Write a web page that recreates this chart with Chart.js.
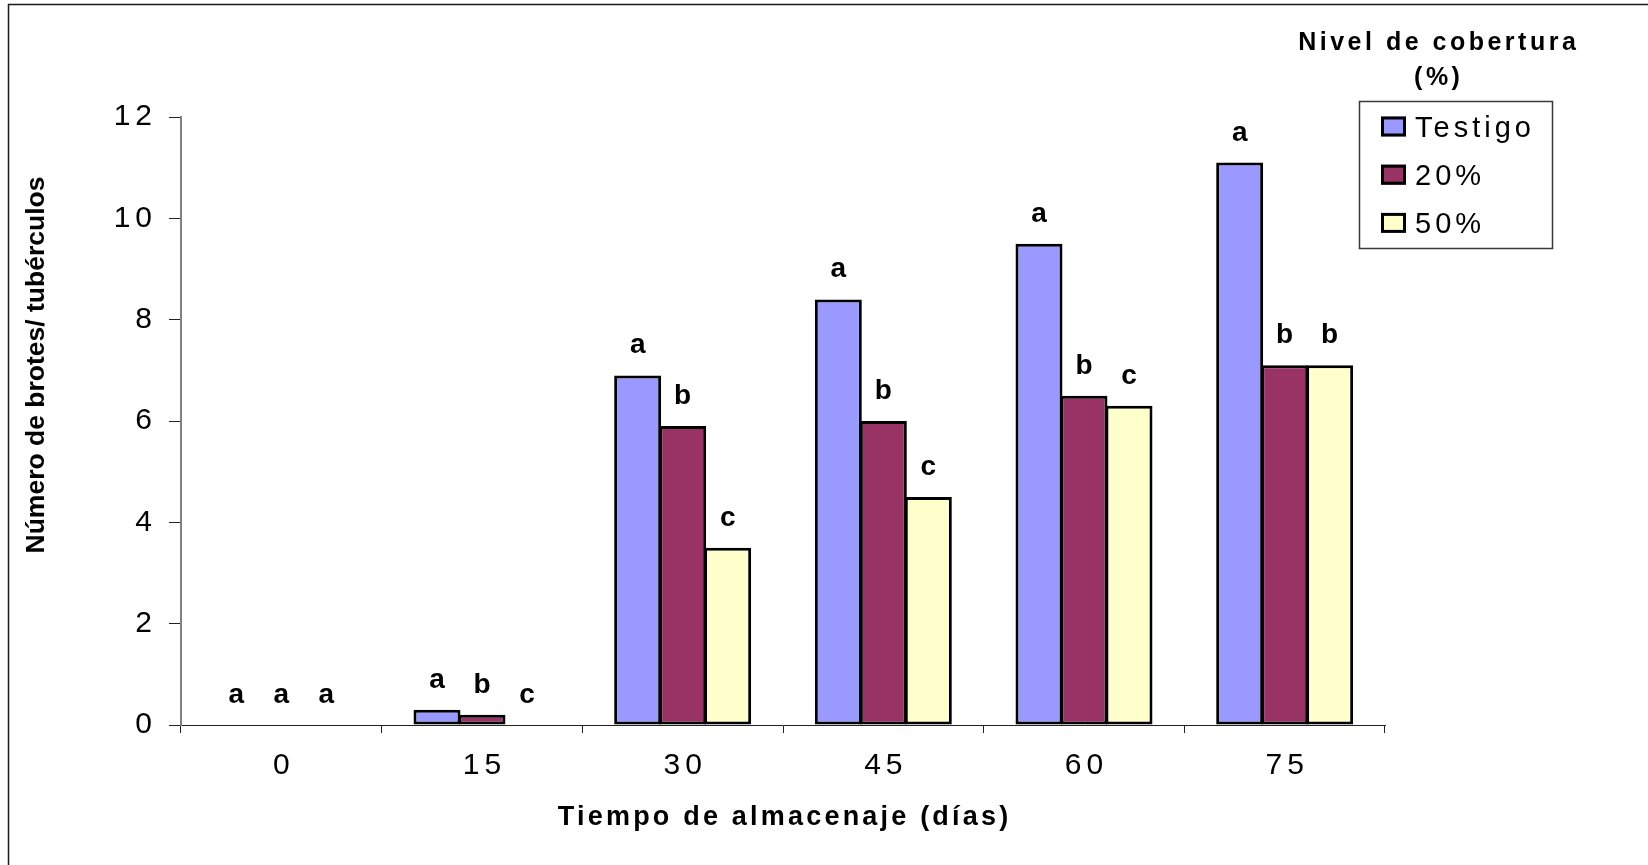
<!DOCTYPE html>
<html>
<head>
<meta charset="utf-8">
<script src="https://cdn.jsdelivr.net/npm/chart.js@4.4.1/dist/chart.umd.min.js"></script>
<style>
  html, body { margin: 0; padding: 0; background: #ffffff; }
  canvas { display: block; }
</style>
</head>
<body>
<canvas id="chart" width="1648" height="865"></canvas>
<script>
// Storage time (days) and sprouts per tuber for each coverage level
const categories = ['0', '15', '30', '45', '60', '75'];
const seriesNames = ['Testigo', '20%', '50%'];
const testigo = [0, 0.3, 6.9, 8.4, 9.5, 11.1];
const cob20 = [0, 0.2, 5.9, 6.0, 6.5, 7.1];
const cob50 = [0, 0, 3.5, 4.5, 6.3, 7.1];
// Significance letters written above each bar
const lettersTestigo = ['a', 'a', 'a', 'a', 'a', 'a'];
const letters20 = ['a', 'b', 'b', 'b', 'b', 'b'];
const letters50 = ['a', 'c', 'c', 'c', 'c', 'b'];
const yTicks = [0, 2, 4, 6, 8, 10, 12];
const xTitle = 'Tiempo de almacenaje (días)';
const yTitle = 'Número de brotes/ tubérculos';
const legendTitle = ['Nivel de cobertura', '(%)'];

const seriesColors = ['#9999FF', '#993366', '#FFFFCC'];
const FONT = "'Liberation Sans', Arial, Helvetica, sans-serif";
Chart.defaults.font.family = FONT;

const seriesValues = [testigo, cob20, cob50];
const seriesLetters = [lettersTestigo, letters20, letters50];

// Wide character spacing for the axis tick labels
const tickSpacing = {
  id: 'tickSpacing',
  beforeDraw(chart) { chart.ctx.letterSpacing = '5px'; },
  beforeDatasetsDraw(chart) { chart.ctx.letterSpacing = '0px'; }
};

// Outer frame of the figure
const frame = {
  id: 'frame',
  afterDraw(chart) {
    const ctx = chart.ctx;
    ctx.save();
    ctx.strokeStyle = '#1a1a1a';
    ctx.lineWidth = 1.5;
    ctx.strokeRect(8.5, 4.5, 3000, 3000);
    ctx.restore();
  }
};

// Letters above the bars
const barLetters = {
  id: 'barLetters',
  afterDatasetsDraw(chart) {
    const ctx = chart.ctx;
    ctx.save();
    ctx.letterSpacing = '0px';
    ctx.font = 'bold 28px ' + FONT;
    ctx.fillStyle = '#000';
    ctx.textAlign = 'center';
    ctx.textBaseline = 'alphabetic';
    chart.data.datasets.forEach((ds, i) => {
      const meta = chart.getDatasetMeta(i);
      meta.data.forEach((bar, j) => {
        ctx.fillText(seriesLetters[i][j], bar.x, bar.y - 22);
      });
    });
    ctx.restore();
  }
};

// Axis titles and the boxed legend with its heading
const annotations = {
  id: 'annotations',
  afterDraw(chart) {
    const ctx = chart.ctx;
    ctx.save();
    ctx.fillStyle = '#000';
    ctx.textBaseline = 'alphabetic';
    ctx.textAlign = 'center';

    // x title
    ctx.font = 'bold 27px ' + FONT;
    ctx.letterSpacing = '3.2px';
    ctx.fillText(xTitle, 783 + 1.6, 825);

    // y title
    ctx.save();
    ctx.font = 'bold 26.5px ' + FONT;
    ctx.letterSpacing = '0px';
    ctx.translate(44, 365);
    ctx.rotate(-Math.PI / 2);
    ctx.fillText(yTitle, 0, 0);
    ctx.restore();

    // legend heading
    ctx.font = 'bold 25px ' + FONT;
    ctx.letterSpacing = '3.5px';
    ctx.fillText(legendTitle[0], 1437 + 1.75, 50);
    ctx.fillText(legendTitle[1], 1437 + 1.75, 85);

    // legend box
    ctx.letterSpacing = '0px';
    ctx.strokeStyle = '#3a3a3a';
    ctx.lineWidth = 1.5;
    ctx.strokeRect(1359.5, 101.5, 193, 147);

    ctx.textAlign = 'left';
    ctx.font = '29px ' + FONT;
    ctx.letterSpacing = '4px';
    chart.data.datasets.forEach((ds, i) => {
      const base = 136.5 + i * 48.2;
      ctx.fillStyle = ds.backgroundColor;
      ctx.fillRect(1381, base - 20, 25, 20);
      ctx.strokeStyle = '#000';
      ctx.lineWidth = 3;
      ctx.strokeRect(1382.5, base - 18.5, 22, 17);
      ctx.fillStyle = '#000';
      ctx.fillText(ds.label, 1415, base);
    });
    ctx.restore();
  }
};

new Chart(document.getElementById('chart'), {
  type: 'bar',
  data: {
    labels: categories,
    datasets: seriesNames.map((name, i) => ({
      label: name,
      data: seriesValues[i],
      backgroundColor: seriesColors[i],
      borderColor: '#000',
      borderWidth: (c) => (c.raw ? 3 : 0),
      borderSkipped: false,
      categoryPercentage: 0.6728,
      barPercentage: 1.044
    }))
  },
  options: {
    responsive: false,
    animation: false,
    devicePixelRatio: 1,
    layout: { padding: { left: 8, top: 117, right: 263, bottom: 0 } },
    plugins: {
      legend: { display: false },
      tooltip: { enabled: false },
      title: { display: false }
    },
    scales: {
      x: {
        grid: { offset: true, drawOnChartArea: false, drawTicks: true, tickLength: 8, color: '#222', lineWidth: 1 },
        border: { display: true, color: '#222', width: 1 },
        ticks: { font: { size: 30 }, color: '#000', padding: 15, maxRotation: 0, autoSkip: false, labelOffset: 2.5 },
        afterFit(scale) { scale.height = 140; }
      },
      y: {
        min: 0,
        max: 12,
        afterBuildTicks(scale) { scale.ticks = yTicks.map(v => ({ value: v })); },
        ticks: { font: { size: 30 }, color: '#000', padding: 12 },
        grid: { drawOnChartArea: false, drawTicks: true, tickLength: 12, color: '#222', lineWidth: 1 },
        border: { display: true, color: '#808080', width: 2 },
        afterFit(scale) { scale.width = 173; }
      }
    }
  },
  plugins: [tickSpacing, barLetters, annotations, frame]
});
</script>
</body>
</html>
